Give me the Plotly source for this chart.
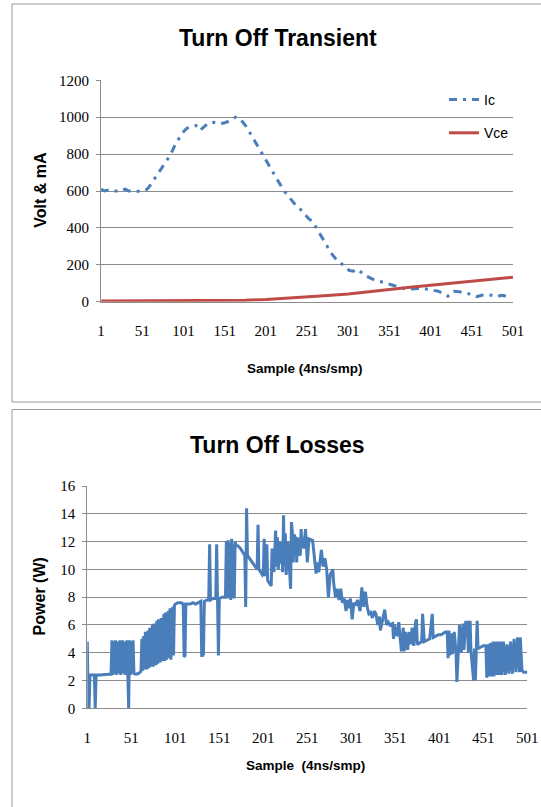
import plotly.graph_objects as go

# ---------------- data ----------------
x_tick_labels = [1, 51, 101, 151, 201, 251, 301, 351, 401, 451, 501]

ic_sample = [1,5,10,15,20,25,30,35,40,45,50,55,58,62,68,74,79,85,90,95,99,105,111,116,121,126,131,138,145,150,
             155,160,164,170,177,183,188,192,197,203,208,214,220,225,230,236,242,247,253,258,263,267,271,275,280,285,291,297,302,307,
             313,320,327,334,341,348,354,362,368,375,382,390,397,404,410,416,422,429,435,441,446,451,457,463,469,475,481,487,492,497]
ic_value = [610,600,605,600,600,600,610,600,600,600,598,605,615,640,680,720,757,795,842,880,911,940,950,955,928,950,968,972,964,968,
            978,985,1000,990,951,905,865,840,799,750,713,665,623,590,560,530,505,480,450,434,395,363,330,300,265,237,210,192,170,165,
            175,145,129,115,108,98,90,80,72,68,70,72,68,63,57,45,30,57,55,52,45,38,27,35,39,35,27,35,30,27]

vce_sample = [1,26,51,76,101,126,151,176,201,226,251,276,301,326,351,376,401,426,451,476,501]
vce_value = [4,4,4,4,4,5,6,8,12,18,25,33,42,52,66,78,89,100,110,122,133]

loss_sample = [
    1,2,3,4,6,8,9,10,11,15,20,25,28,
    29,30,31,32,33,34,35,37,38,39,41,42,43,44,46,47,48,49,50,51,52,53,54,
    56,59,61,
    62,63,64,65,66,67,69,70,71,72,74,75,76,77,79,80,81,82,84,85,86,88,89,90,91,93,94,95,96,98,99,100,101,
    104,108,110,111,112,113,118,121,124,127,130,131,132,133,134,137,139,140,141,144,147,148,149,150,151,154,157,158,
    159,160,161,162,163,164,165,166,167,168,169,170,
    172,175,178,180,181,182,183,185,188,191,194,195,196,198,200,201,202,203,205,206,208,210,211,212,213,215,216,217,218,
    220,221,222,223,224,225,226,227,229,230,232,233,234,235,236,238,239,240,241,243,244,245,246,
    247,249,251,253,257,259,261,262,264,267,269,271,273,275,277,280,281,283,285,287,289,291,293,295,297,298,300,302,304,
    306,308,311,313,315,317,319,321,323,325,327,329,331,333,334,337,339,341,343,345,348,349,350,353,355,356,358,360,361,
    363,365,367,369,370,372,374,375,376,
    379,381,382,384,387,390,393,394,397,400,403,406,408,410,411,412,413,415,416,418,420,421,423,424,426,428,429,431,433,
    434,436,437,440,441,442,444,445,448,451,454,455,456,457,459,460,462,463,465,466,468,469,471,472,474,476,478,480,482,
    484,486,488,490,492,493,495,497,501]
loss_power = [
    4.8,0,0,2.4,2.4,2.4,2.4,0,2.4,2.4,2.45,2.45,2.45,
    4.9,2.4,4.8,2.5,4.9,2.4,4.8,2.5,4.9,2.4,4.9,2.5,4.8,2.4,4.9,2.5,0,4.9,2.4,4.8,2.5,4.9,2.5,
    2.45,2.5,2.6,
    2.7,5.0,2.7,5.2,2.8,5.5,2.8,5.6,2.9,5.8,3.0,6.0,3.0,6.1,3.1,6.3,3.2,6.4,3.3,6.5,3.4,6.8,3.4,6.9,3.5,7.0,3.6,7.2,3.5,7.3,3.8,7.4,7.5,
    7.6,7.6,7.5,3.7,3.8,7.5,7.5,7.6,7.5,7.6,7.7,3.8,3.8,3.9,7.7,7.8,7.8,11.8,7.8,7.9,7.9,11.8,7.9,3.8,7.9,8.0,8.0,8.0,
    12.0,7.9,12.1,8.0,11.9,7.8,12.2,8.0,11.8,7.9,12.0,11.7,
    11.7,11.5,11.2,11.0,7.3,14.4,11.0,10.8,10.6,10.3,10.0,13.2,10.0,9.8,9.6,9.7,12.2,9.5,11.8,9.2,9.0,8.8,11.5,10.5,9.8,12.8,10.2,12.3,10.0,
    12.0,10.4,11.7,9.8,13.9,10.2,12.6,9.6,12.0,10.5,8.6,13.4,12.7,10.5,12.5,12.2,10.5,12.3,11.2,11.0,12.9,11.6,12.3,
    11.5,12.9,10.5,12.2,12.1,11.0,9.7,10.5,9.8,11.4,10.2,10.8,10.0,8.0,9.6,10.0,9.0,8.0,8.6,7.8,8.6,7.6,7.9,7.0,7.8,7.2,7.9,6.4,7.6,
    7.4,7.8,7.0,8.7,7.3,8.4,7.3,6.8,6.9,6.5,7.0,6.8,6.0,6.6,5.6,6.5,7.1,6.0,6.2,6.0,6.1,5.0,6.0,5.2,6.2,5.4,4.1,5.8,4.1,
    5.5,4.2,5.5,4.6,5.8,4.5,6.2,6.4,4.6,
    4.7,4.8,6.8,4.8,4.9,5.0,6.8,5.1,5.2,5.3,5.3,5.4,5.5,5.5,3.6,5.6,3.8,5.4,3.9,5.5,4.0,1.9,4.5,6.0,4.0,6.1,4.2,6.2,6.2,
    4.0,6.3,4.1,2.0,4.3,2.0,6.3,4.3,4.4,4.5,4.5,2.2,4.6,2.3,4.7,2.3,4.8,2.3,4.8,2.4,4.8,2.4,4.8,2.4,4.8,2.4,4.6,2.5,4.8,
    2.5,5.0,2.6,5.1,2.6,5.1,2.7,2.6,2.6]

# ---------------- layout helpers ----------------
W, H = 541, 807
def px(x):
    return x / W
def py(y):
    return 1 - y / H

BLUE = "#4A7EBB"
RED = "#BE4B48"
GRID = "#8C8C8C"
TICKFONT = dict(family="Liberation Serif", size=15, color="#000000")
SANS = "Liberation Sans"

fig = go.Figure()
fig.add_trace(go.Scatter(x=ic_sample, y=ic_value, mode="lines", name="Ic",
                         line=dict(color=BLUE, width=3, dash="8px,6px,3px,6px"),
                         xaxis="x", yaxis="y", legendgroup="a"))
fig.add_trace(go.Scatter(x=vce_sample, y=vce_value, mode="lines", name="Vce",
                         line=dict(color=RED, width=3), xaxis="x", yaxis="y", legendgroup="b"))
fig.add_trace(go.Scatter(x=loss_sample, y=loss_power, mode="lines", name="Power",
                         line=dict(color=BLUE, width=3), showlegend=False,
                         xaxis="x2", yaxis="y2"))

xcommon = dict(range=[1, 501], tickvals=x_tick_labels, ticktext=[str(v) for v in x_tick_labels],
               showgrid=False, zeroline=False, showline=True, linecolor=GRID, linewidth=1,
               ticks="", tickfont=TICKFONT, automargin=False)
ycommon = dict(showgrid=True, gridcolor=GRID, gridwidth=1, zeroline=False, showline=True,
               linecolor=GRID, linewidth=1, ticks="outside", ticklen=4, tickcolor=GRID,
               tickfont=TICKFONT, ticklabelstandoff=4, automargin=False)

fig.update_layout(
    width=W, height=H,
    margin=dict(l=0, r=0, t=0, b=0, autoexpand=False),
    paper_bgcolor="white", plot_bgcolor="white",
    xaxis=dict(domain=[px(101.1), px(513)], anchor="y", ticklabelstandoff=15, **xcommon),
    yaxis=dict(domain=[py(301.7), py(80.3)], anchor="x", range=[0, 1200], dtick=200, **ycommon),
    xaxis2=dict(domain=[px(87.3), px(527.3)], anchor="y2", ticklabelstandoff=16, **xcommon),
    yaxis2=dict(domain=[py(708.3), py(486)], anchor="x2", range=[0, 16], dtick=2, **ycommon),
    legend=dict(x=px(444), y=py(84), xanchor="left", yanchor="top", bgcolor="rgba(0,0,0,0)",
                font=dict(family=SANS, size=14, color="#000000"), tracegroupgap=12,
                traceorder="grouped"),
    showlegend=True,
)

annotations = [
    dict(text="Turn Off Transient", x=px(277.8), y=py(38), font=dict(family=SANS, size=23, weight="bold")),
    dict(text="Turn Off Losses", x=px(277.8), y=py(445), font=dict(family=SANS, size=23, weight="bold")),
    dict(text="Volt & mA", x=px(39.7), y=py(190), textangle=-90, font=dict(family=SANS, size=16, weight="bold")),
    dict(text="Power (W)", x=px(39.7), y=py(596.7), textangle=-90, font=dict(family=SANS, size=16, weight="bold")),
    dict(text="Sample (4ns/smp)", x=px(305.4), y=py(368.3), font=dict(family=SANS, size=13.5, weight="bold")),
    dict(text="Sample  (4ns/smp)", x=px(305.4), y=py(765.7), font=dict(family=SANS, size=13.5, weight="bold")),
]
for a in annotations:
    a.update(xref="paper", yref="paper", xanchor="center", yanchor="middle", showarrow=False)
    a["font"]["color"] = "#000000"
fig.update_layout(annotations=annotations)

fig.update_layout(shapes=[
    dict(type="rect", xref="paper", yref="paper", x0=px(12), x1=px(560), y0=py(402), y1=py(4),
         line=dict(color="#9A9A9A", width=1), fillcolor="rgba(0,0,0,0)", layer="below"),
    dict(type="rect", xref="paper", yref="paper", x0=px(12), x1=px(560), y0=py(830), y1=py(409.5),
         line=dict(color="#9A9A9A", width=1), fillcolor="rgba(0,0,0,0)", layer="below"),
])

fig.write_html("out.html", config={"displayModeBar": False},
               post_script="document.body.style.margin='0px';document.body.style.overflow='hidden';")
